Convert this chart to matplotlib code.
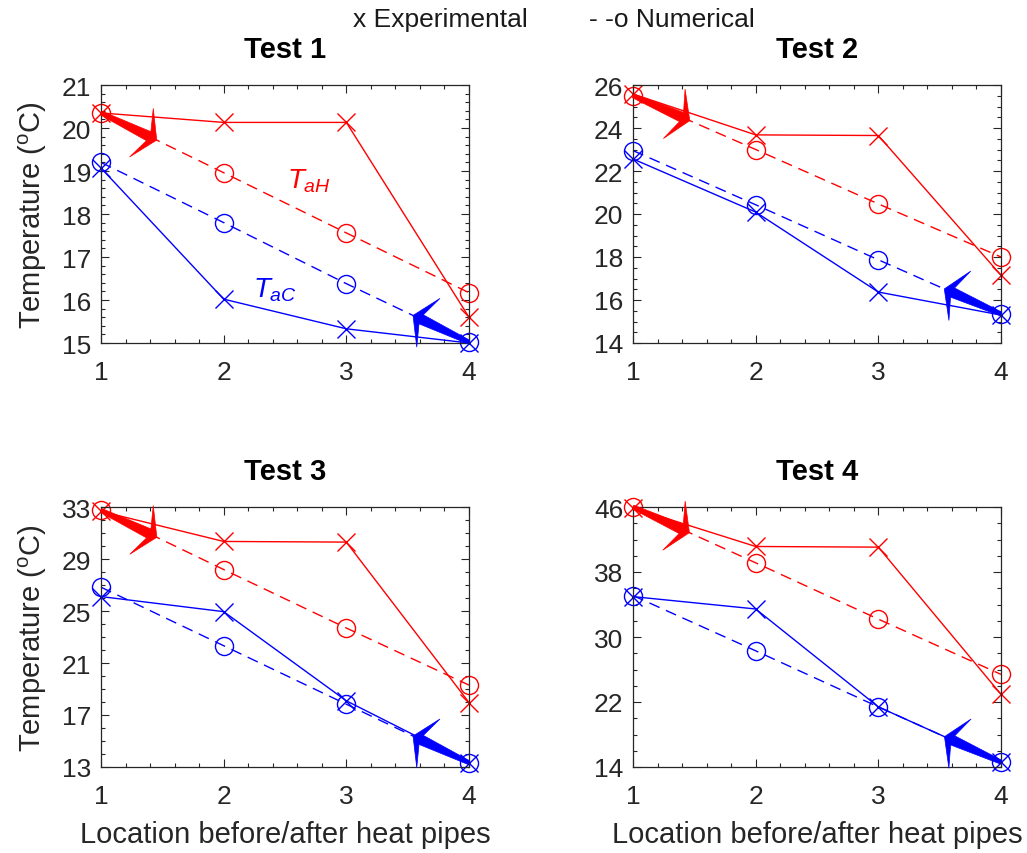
#!/usr/bin/env python3

import matplotlib
matplotlib.use("Agg")
import matplotlib.pyplot as plt
import numpy as np
from matplotlib.patches import Polygon
from matplotlib.ticker import AutoMinorLocator

plt.rcParams["font.family"] = ["Liberation Sans", "DejaVu Sans"]
plt.rcParams["mathtext.fontset"] = "custom"
plt.rcParams["mathtext.rm"] = "Liberation Sans"
plt.rcParams["mathtext.it"] = "Liberation Sans:italic"

RED = "#ff0000"
BLUE = "#0000ff"
AX_COLOR = "#262626"

locations = [1, 2, 3, 4]

# Test 1
t1_hot_exp = [20.35, 20.13, 20.13, 15.60]
t1_hot_num = [20.35, 18.96, 17.56, 16.17]
t1_cold_exp = [19.07, 16.02, 15.33, 15.00]
t1_cold_num = [19.20, 17.80, 16.38, 15.02]

# Test 2
t2_hot_exp = [25.58, 23.68, 23.65, 17.15]
t2_hot_num = [25.50, 23.00, 20.47, 18.00]
t2_cold_exp = [22.56, 20.09, 16.37, 15.30]
t2_cold_num = [22.95, 20.43, 17.87, 15.35]

# Test 3
t3_hot_exp = [32.67, 30.35, 30.30, 17.96]
t3_hot_num = [32.74, 28.19, 23.69, 19.30]
t3_cold_exp = [26.11, 24.95, 18.09, 13.33]
t3_cold_num = [26.83, 22.33, 17.83, 13.33]

# Test 4
t4_hot_exp = [45.90, 41.14, 41.06, 22.95]
t4_hot_num = [46.00, 39.13, 32.20, 25.40]
t4_cold_exp = [34.97, 33.45, 21.40, 14.60]
t4_cold_num = [35.10, 28.30, 21.40, 14.60]

titles = ["Test 1", "Test 2", "Test 3", "Test 4"]
y_limits = [(15, 21), (14, 26), (13, 33), (14, 46)]
y_steps = [1, 2, 4, 8]
y_minor = [5, 4, 4, 4]

W, H = 1027, 854
# axes boxes in pixels: left, top, width, height
boxes = [(101, 86, 368, 258), (633, 86, 368, 258),
         (101, 508, 368, 260), (633, 508, 368, 260)]


def draw_arrow(ax, p_from, p_toward, color, length=62):
    """Big barbed arrow from p_from pointing toward p_toward (length in pixels)."""
    d0 = ax.transData.transform(p_from)
    d1 = ax.transData.transform(p_toward)
    u = (d1 - d0) / np.hypot(*(d1 - d0))
    v = np.array([-u[1], u[0]])
    shape = [(0, 2.0), (length - 9, 5.0), (length - 17, 27), (length, 0),
             (length - 17, -27), (length - 9, -5.0), (0, -2.0)]
    pts = np.array([d0 + a * u + b * v for a, b in shape])
    data_pts = ax.transData.inverted().transform(pts)
    ax.add_patch(Polygon(data_pts, closed=True, facecolor=color, edgecolor=color,
                         lw=0.5, clip_on=False, zorder=5))


fig = plt.figure(figsize=(W / 100, H / 100), dpi=100)

series = [
    (t1_hot_exp, t1_hot_num, t1_cold_exp, t1_cold_num),
    (t2_hot_exp, t2_hot_num, t2_cold_exp, t2_cold_num),
    (t3_hot_exp, t3_hot_num, t3_cold_exp, t3_cold_num),
    (t4_hot_exp, t4_hot_num, t4_cold_exp, t4_cold_num),
]

for i, (hot_exp, hot_num, cold_exp, cold_num) in enumerate(series):
    left, top, w, h = boxes[i]
    ax = fig.add_axes([left / W, 1 - (top + h) / H, w / W, h / H])

    line_kw = dict(lw=1.0, markersize=13, markeredgewidth=1.0,
                   markerfacecolor="none", clip_on=False)
    ax.plot(locations, hot_exp, "-", marker="x", color=RED, **line_kw)
    ax.plot(locations, hot_num, "--", marker="o", color=RED, dashes=(8, 5), **line_kw)
    ax.plot(locations, cold_exp, "-", marker="x", color=BLUE, **line_kw)
    ax.plot(locations, cold_num, "--", marker="o", color=BLUE, dashes=(8, 5), **line_kw)

    lo, hi = y_limits[i]
    ax.set_xlim(1, 4)
    ax.set_ylim(lo, hi)
    ax.set_xticks(locations)
    ax.set_yticks(np.arange(lo, hi + 0.5 * y_steps[i], y_steps[i]))
    ax.xaxis.set_minor_locator(AutoMinorLocator(5))
    ax.yaxis.set_minor_locator(AutoMinorLocator(y_minor[i]))
    ax.tick_params(which="both", direction="in", top=True, right=True,
                   color=AX_COLOR, labelcolor=AX_COLOR)
    ax.tick_params(which="major", length=6, width=0.8, labelsize=19)
    ax.tick_params(which="minor", length=3, width=0.8)
    ax.tick_params(axis="x", pad=12)
    ax.tick_params(axis="y", pad=7)
    for sp in ax.spines.values():
        sp.set_color(AX_COLOR)
        sp.set_linewidth(0.9)

    ax.set_title(titles[i], fontsize=21, fontweight="bold", pad=20)
    if i % 2 == 0:
        ax.set_ylabel("Temperature ($^{\\mathrm{o}}$C)", fontsize=21, color=AX_COLOR,
                      labelpad=9)
    if i >= 2:
        ax.set_xlabel("Location before/after heat pipes", fontsize=21, color=AX_COLOR,
                      labelpad=9)

    draw_arrow(ax, (locations[0], hot_num[0]), (locations[1], hot_num[1]), RED)
    draw_arrow(ax, (locations[3], cold_num[3]), (locations[2], cold_num[2]), BLUE)

    if i == 0:
        ax.text(2.52, 18.78, "$T_{aH}$", color=RED, fontsize=20, va="center")
        ax.text(2.24, 16.26, "$T_{aC}$", color=BLUE, fontsize=20, va="center")

fig.text(440 / W, 1 - 20 / H, "x Experimental", fontsize=19, ha="center", va="center",
         color="#1a1a1a")
fig.text(672 / W, 1 - 20 / H, "- -o Numerical", fontsize=19, ha="center", va="center",
         color="#1a1a1a")

fig.savefig("out.png", dpi=100)
